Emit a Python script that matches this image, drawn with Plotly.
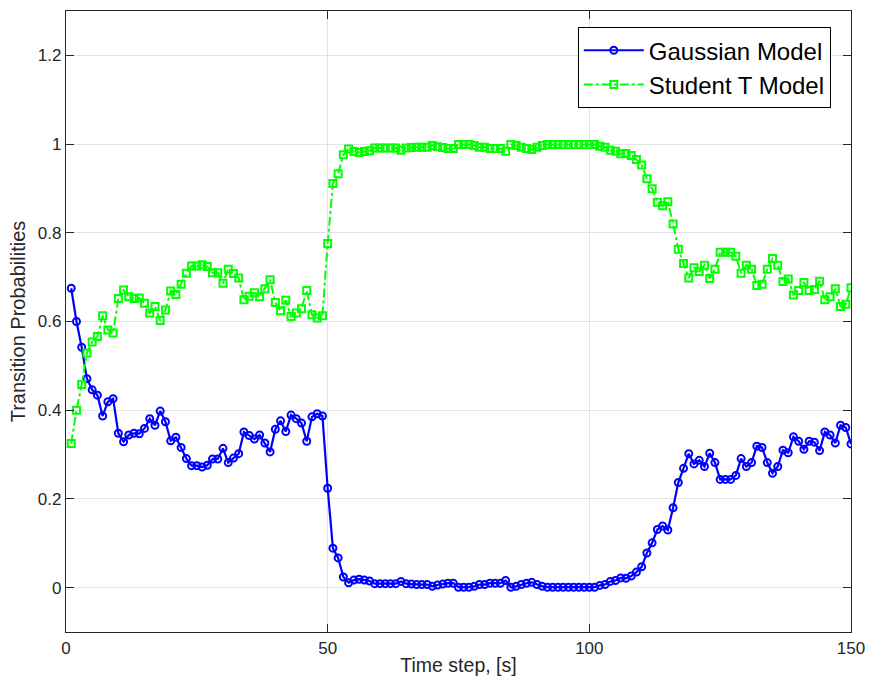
import plotly.graph_objects as go

# Time steps 1..150
time_steps = list(range(1, 151))

gaussian_prob = [
    0.675, 0.600, 0.542, 0.471, 0.446, 0.434, 0.387, 0.419, 0.426, 0.348,
    0.329, 0.344, 0.348, 0.347, 0.359, 0.381, 0.366, 0.398, 0.374, 0.331,
    0.339, 0.316, 0.291, 0.275, 0.275, 0.272, 0.276, 0.290, 0.290, 0.314,
    0.282, 0.292, 0.302, 0.351, 0.343, 0.335, 0.344, 0.326, 0.306, 0.357,
    0.376, 0.352, 0.389, 0.381, 0.371, 0.330, 0.385, 0.392, 0.387, 0.224,
    0.089, 0.067, 0.024, 0.011, 0.017, 0.019, 0.017, 0.015, 0.009, 0.009,
    0.009, 0.009, 0.009, 0.014, 0.009, 0.008, 0.007, 0.007, 0.007, 0.003,
    0.006, 0.008, 0.010, 0.010, 0.001, 0.001, 0.001, 0.003, 0.007, 0.007,
    0.010, 0.010, 0.010, 0.016, 0.001, 0.003, 0.007, 0.010, 0.012, 0.007,
    0.003, 0.001, 0.001, 0.001, 0.001, 0.001, 0.001, 0.001, 0.001, 0.001,
    0.001, 0.005, 0.007, 0.014, 0.016, 0.022, 0.021, 0.026, 0.035, 0.047,
    0.078, 0.101, 0.131, 0.139, 0.130, 0.180, 0.237, 0.269, 0.302, 0.279,
    0.287, 0.273, 0.303, 0.282, 0.244, 0.244, 0.244, 0.253, 0.291, 0.273,
    0.282, 0.319, 0.316, 0.282, 0.258, 0.273, 0.310, 0.304, 0.340, 0.330,
    0.312, 0.330, 0.328, 0.309, 0.351, 0.344, 0.326, 0.366, 0.361, 0.324,
]

student_t_prob = [
    0.325, 0.400, 0.458, 0.529, 0.554, 0.566, 0.613, 0.581, 0.574, 0.652,
    0.671, 0.656, 0.652, 0.653, 0.641, 0.619, 0.634, 0.602, 0.626, 0.669,
    0.661, 0.684, 0.709, 0.725, 0.725, 0.728, 0.724, 0.710, 0.710, 0.686,
    0.718, 0.708, 0.698, 0.649, 0.657, 0.665, 0.656, 0.674, 0.694, 0.643,
    0.624, 0.648, 0.611, 0.619, 0.629, 0.670, 0.615, 0.608, 0.613, 0.776,
    0.911, 0.933, 0.976, 0.989, 0.983, 0.981, 0.983, 0.985, 0.991, 0.991,
    0.991, 0.991, 0.991, 0.986, 0.991, 0.992, 0.993, 0.993, 0.993, 0.997,
    0.994, 0.992, 0.990, 0.990, 0.999, 0.999, 0.999, 0.997, 0.993, 0.993,
    0.990, 0.990, 0.990, 0.984, 0.999, 0.997, 0.993, 0.990, 0.988, 0.993,
    0.997, 0.999, 0.999, 0.999, 0.999, 0.999, 0.999, 0.999, 0.999, 0.999,
    0.999, 0.995, 0.993, 0.986, 0.984, 0.978, 0.979, 0.974, 0.965, 0.953,
    0.922, 0.899, 0.869, 0.861, 0.870, 0.820, 0.763, 0.731, 0.698, 0.721,
    0.713, 0.727, 0.697, 0.718, 0.756, 0.756, 0.756, 0.747, 0.709, 0.727,
    0.718, 0.681, 0.684, 0.718, 0.742, 0.727, 0.690, 0.696, 0.660, 0.670,
    0.688, 0.670, 0.672, 0.691, 0.649, 0.656, 0.674, 0.634, 0.639, 0.676,
]

x_ticks = [0, 50, 100, 150]
y_ticks = [0, 0.2, 0.4, 0.6, 0.8, 1.0, 1.2]
y_tick_labels = ["0", "0.2", "0.4", "0.6", "0.8", "1", "1.2"]

FONT = "Liberation Sans, Arial, Helvetica, sans-serif"
AXIS_COLOR = "#262626"

fig = go.Figure()

fig.add_trace(go.Scatter(
    x=time_steps, y=gaussian_prob, name="Gaussian Model",
    mode="lines+markers",
    line=dict(color="#0000ff", width=2.2),
    marker=dict(symbol="circle-open", size=7, color="#0000ff",
                line=dict(width=2, color="#0000ff")),
))

fig.add_trace(go.Scatter(
    x=time_steps, y=student_t_prob, name="Student T Model",
    mode="lines+markers",
    line=dict(color="#00ff00", width=2, dash="dashdot"),
    marker=dict(symbol="square-open", size=7, color="#00ff00",
                line=dict(width=2, color="#00ff00")),
))

axis_common = dict(
    showline=True, linecolor=AXIS_COLOR, linewidth=1.2, mirror="allticks",
    ticks="inside", ticklen=8, tickcolor=AXIS_COLOR, tickwidth=1,
    showgrid=True, gridcolor="#e3e3e3", gridwidth=1.2,
    zeroline=False,
    tickfont=dict(family=FONT, size=17, color=AXIS_COLOR),
)

fig.update_xaxes(
    range=[0, 150], tickvals=x_ticks,
    title=dict(text="Time step, [s]", font=dict(family=FONT, size=19.5, color=AXIS_COLOR),
               standoff=1),
    **axis_common,
)
fig.update_yaxes(
    range=[-0.1, 1.3], tickvals=y_ticks, ticktext=y_tick_labels,
    title=dict(text="Transition Probabilities", font=dict(family=FONT, size=20, color=AXIS_COLOR),
               standoff=6),
    **axis_common,
)

fig.update_layout(
    width=875, height=684,
    margin=dict(l=66, r=17, t=10, b=52),
    paper_bgcolor="white", plot_bgcolor="white",
    font=dict(family=FONT, color=AXIS_COLOR),
    showlegend=True,
    legend=dict(
        x=0.652, y=0.974, xanchor="left", yanchor="top",
        bgcolor="white", bordercolor="#000000", borderwidth=1,
        font=dict(family=FONT, size=24, color="#000000"),
        itemwidth=60, tracegroupgap=0,
    ),
)

fig.write_html("out.html")
